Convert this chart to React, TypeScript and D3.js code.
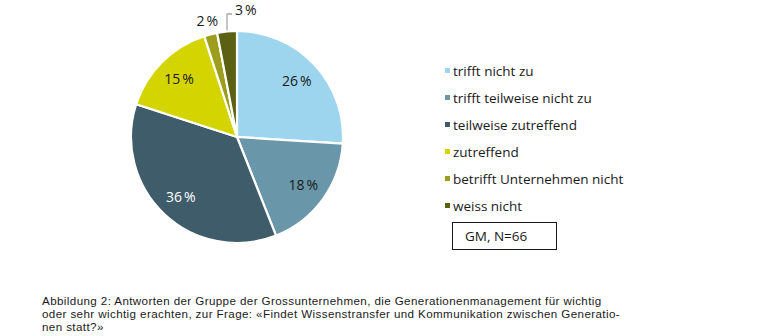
import React from "react";
import * as d3 from "d3";

const categories = [
  "trifft nicht zu",
  "trifft teilweise nicht zu",
  "teilweise zutreffend",
  "zutreffend",
  "betrifft Unternehmen nicht",
  "weiss nicht",
];
const values = [26, 18, 36, 15, 2, 3];
const colors = ["#9dd5ef", "#6a96a9", "#3f5c6a", "#d3d400", "#9c9e1c", "#5b6013"];
const labelColors = ["#1a1a1a", "#1a1a1a", "#ffffff", "#1a1a1a", "#1a1a1a", "#1a1a1a"];
const captionLines = [
  "Abbildung 2: Antworten der Gruppe der Grossunternehmen, die Generationenmanagement für wichtig",
  "oder sehr wichtig erachten, zur Frage: «Findet Wissenstransfer und Kommunikation zwischen Generatio-",
  "nen statt?»",
];
const noteText = "GM, N=66";

const W = 782;
const H = 336;
const cx = 237;
const cy = 137;
const R = 106;
const font = "'Open Sans', 'Noto Sans', sans-serif";

function Pct({ x, y, v, fill, anchor }: { x: number; y: number; v: number; fill: string; anchor: string }) {
  return (
    <text x={x} y={y} dy="0.35em" textAnchor={anchor} fontSize={14} fill={fill}>
      {v}
      <tspan dx={2}>%</tspan>
    </text>
  );
}

export default function App() {
  const pie = d3.pie<number>().sort(null).value((d) => d)(values);
  const arc = d3.arc<d3.PieArcDatum<number>>().innerRadius(0).outerRadius(R);
  const labelArc = d3.arc<d3.PieArcDatum<number>>().innerRadius(82).outerRadius(82);
  const mid = (p: d3.PieArcDatum<number>) => (p.startAngle + p.endAngle) / 2;

  return (
    <svg
      width={W}
      height={H}
      style={{ position: "absolute", left: 0, top: 0, background: "#fff" }}
      fontFamily={font}
    >
      <g transform={`translate(${cx},${cy})`}>
        {pie.map((p, i) => (
          <path key={i} d={arc(p) || ""} fill={colors[i]} stroke="#fff" strokeWidth={2.2} strokeLinejoin="round" />
        ))}
        {pie.map((p, i) => {
          if (i < 4) {
            const [x, y] = labelArc.centroid(p);
            return <Pct key={i} x={x} y={y} v={values[i]} fill={labelColors[i]} anchor="middle" />;
          }
          if (i === 4) {
            const a = mid(p);
            const x = Math.sin(a) * 120;
            const y = -Math.cos(a) * 120;
            return <Pct key={i} x={x} y={y} v={values[i]} fill={labelColors[i]} anchor="middle" />;
          }
          const a = mid(p);
          const x0 = Math.sin(a) * R;
          const y0 = -Math.cos(a) * R;
          const yTop = -R - 17;
          return (
            <g key={i}>
              <polyline
                points={`${x0},${y0 - 1} ${x0},${yTop} ${x0 + 5},${yTop}`}
                fill="none"
                stroke="#a6a6a6"
                strokeWidth={1.3}
              />
              <Pct x={x0 + 8} y={yTop - 4} v={values[i]} fill={labelColors[i]} anchor="start" />
            </g>
          );
        })}
      </g>
      <g>
        {categories.map((c, i) => (
          <g key={c} transform={`translate(445,${71 + i * 27})`}>
            <rect x={0} y={-3} width={5} height={5} fill={colors[i]} />
            <text x={8} y={0} dy="0.35em" fontSize={13.5} fill="#1a1a1a">
              {c}
            </text>
          </g>
        ))}
        <rect x={452.5} y={222.5} width={104} height={27} fill="#fff" stroke="#1a1a1a" strokeWidth={1} />
        <text x={465} y={236} dy="0.35em" fontSize={13.5} fill="#1a1a1a">
          {noteText}
        </text>
      </g>
      {captionLines.map((l, i) => (
        <text
          key={i}
          x={42}
          y={300.5 + i * 13}
          dy="0.35em"
          fontSize={11.6}
          letterSpacing={0.4}
          fontFamily="'Liberation Sans', Arial, sans-serif"
          fill="#1a1a1a"
        >
          {l}
        </text>
      ))}
    </svg>
  );
}
